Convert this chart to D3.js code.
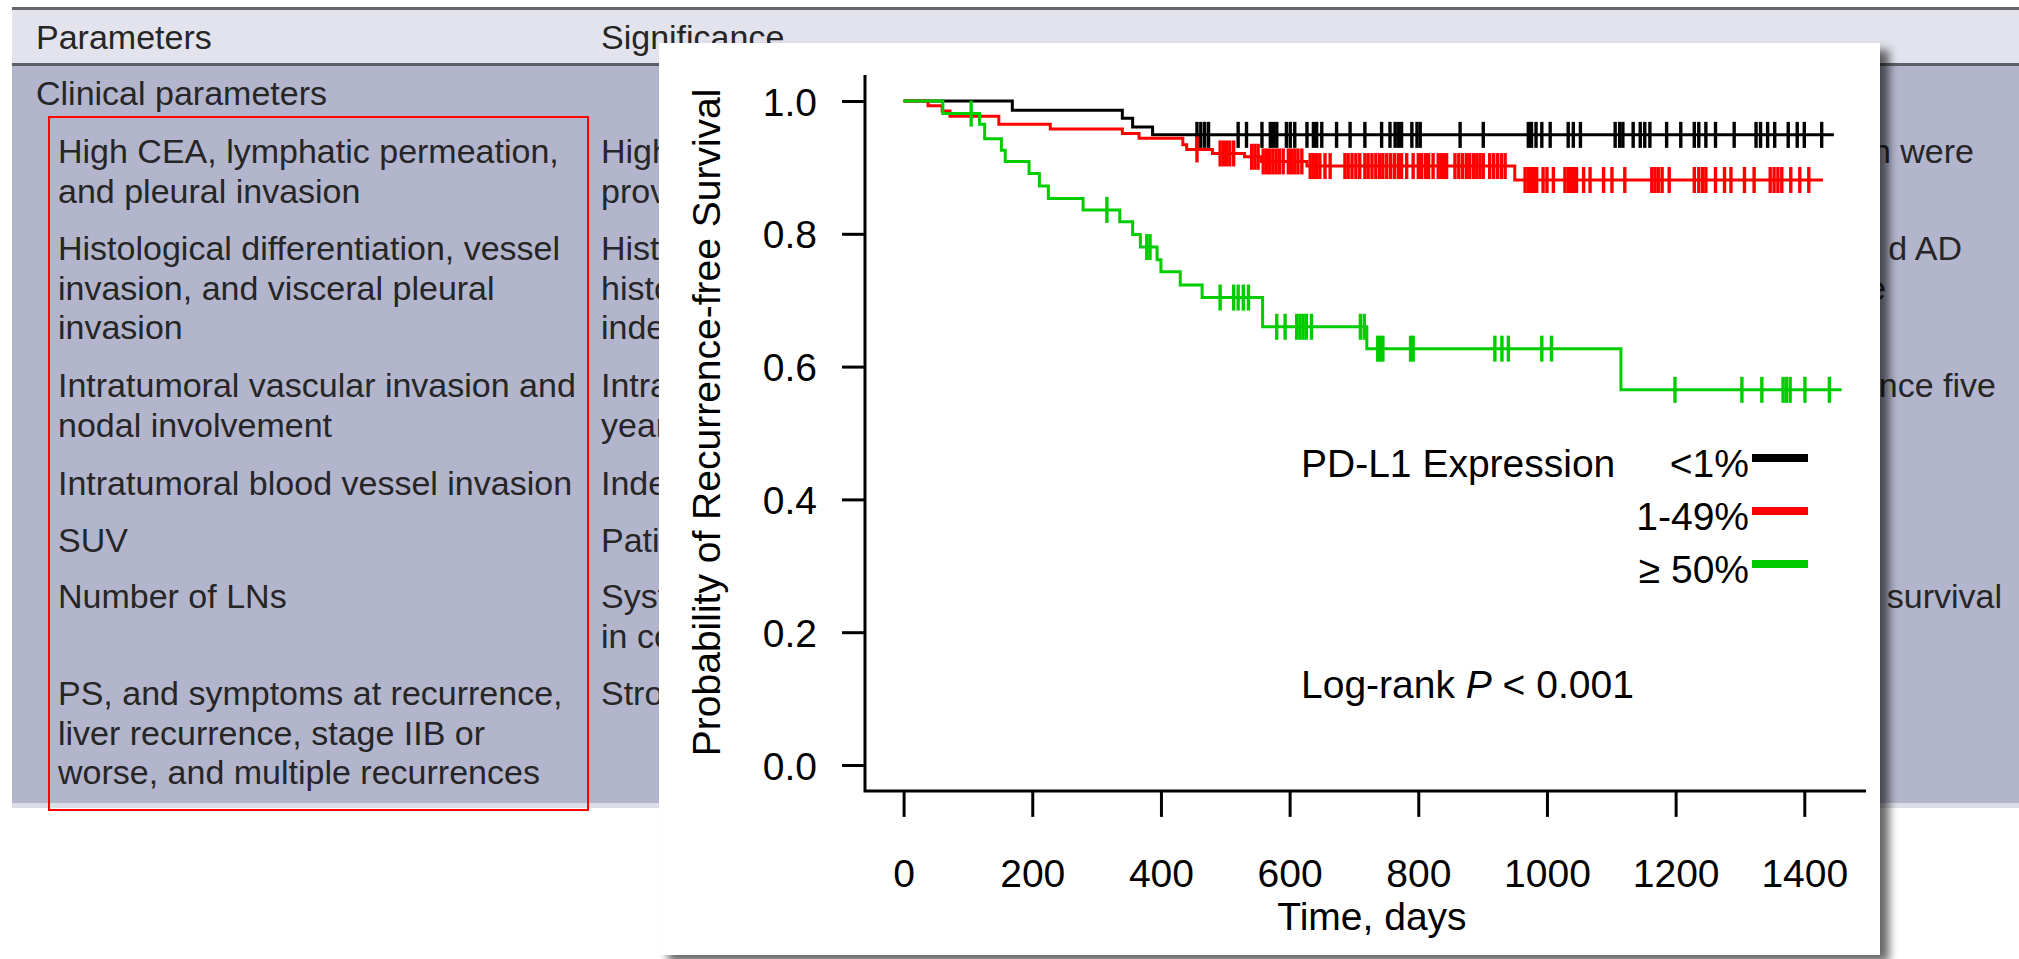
<!DOCTYPE html>
<meta charset="utf-8">
<title>PD-L1 recurrence-free survival</title>
<style>
    body { margin: 0; background: #fff; }
    svg { display: block; }
    text { font-family: "Liberation Sans", Arial, Helvetica, sans-serif; }
</style>

<body>
    <script src="https://d3js.org/d3.v7.min.js" charset="utf-8"></script>
    <script>
        // ---- data ----

        var groups = ["<1%", "1-49%", "\u2265 50%"],
            colors = ["#000000", "#ff0000", "#00cc00"];

        // Kaplan-Meier steps: [day, survival]
        var stepsLow = [[0, 1], [169, 0.986], [340, 0.974], [356, 0.961], [387, 0.949]];
        var stepsMid = [[0, 1], [38, 0.993], [60, 0.985], [72, 0.977], [148, 0.965], [228, 0.958],
            [340, 0.951], [366, 0.944], [434, 0.934], [440, 0.927], [480, 0.921], [530, 0.916],
            [556, 0.909], [627, 0.902], [950, 0.881]];
        var stepsHigh = [[0, 1], [61, 0.981], [118, 0.965], [126, 0.943], [152, 0.926], [158, 0.909],
            [195, 0.891], [211, 0.872], [225, 0.853], [279, 0.836], [336, 0.818], [356, 0.799],
            [368, 0.780], [394, 0.761], [400, 0.743], [430, 0.723], [464, 0.704], [558, 0.660],
            [720, 0.627], [1115, 0.565]];

        var lastDay = [1446, 1429, 1458];

        // censored observations, days
        var censorLow = [456, 462, 468, 474, 520, 533, 557, 570, 575, 580, 595, 601, 608, 627, 637,
            642, 650, 673, 694, 717, 743, 756, 764, 769, 774, 790, 798, 803, 865, 901, 971, 976,
            983, 992, 1005, 1033, 1041, 1052, 1106, 1113, 1118, 1134, 1145, 1152, 1160, 1186, 1208,
            1229, 1236, 1247, 1262, 1291, 1325, 1332, 1343, 1354, 1375, 1389, 1400, 1427];
        var censorMid = [456, 492, 497, 502, 507, 513, 541, 546, 551, 559, 564, 569, 574, 579, 584,
            590, 598, 603, 608, 613, 619, 632, 637, 642, 647, 655, 663, 686, 691, 697, 703, 709,
            717, 722, 728, 734, 740, 745, 751, 757, 763, 769, 774, 782, 792, 800, 805, 811, 816,
            823, 831, 836, 840, 844, 857, 863, 869, 875, 880, 886, 891, 896, 901, 911, 917, 923,
            929, 935, 966, 971, 976, 980, 984, 994, 1000, 1010, 1028, 1033, 1037, 1041, 1046,
            1057, 1067, 1088, 1101, 1121, 1163, 1168, 1173, 1179, 1190, 1229, 1236, 1242, 1247,
            1262, 1276, 1286, 1307, 1322, 1347, 1353, 1359, 1365, 1379, 1393, 1407];
        var censorHigh = [105, 316, 378, 383, 492, 513, 520, 528, 536, 580, 593, 611, 616, 621, 626,
            634, 710, 716, 737, 741, 745, 788, 792, 919, 930, 940, 992, 1007, 1199, 1303, 1334,
            1367, 1372, 1378, 1401, 1439];

        var xTicks = [0, 200, 400, 600, 800, 1000, 1200, 1400],
            yTicks = [0, 0.2, 0.4, 0.6, 0.8, 1.0];

        // background table text
        var tableHeads = ["Parameters", "Significance"],
            tableSection = "Clinical parameters";
        var paramRows = [
            ["High CEA, lymphatic permeation,", "and pleural invasion"],
            ["Histological differentiation, vessel", "invasion, and visceral pleural", "invasion"],
            ["Intratumoral vascular invasion and", "nodal involvement"],
            ["Intratumoral blood vessel invasion"],
            ["SUV"],
            ["Number of LNs"],
            ["PS, and symptoms at recurrence,", "liver recurrence, stage IIB or", "worse, and multiple recurrences"]
        ];
        var signifRows = [
            ["High", "prov"],
            ["Hist", "histo", "inde"],
            ["Intra", "year"],
            ["Inde"],
            ["Pati"],
            ["Syst", "in co"],
            ["Stro"]
        ];
        // tails of the second column seen right of the chart: [text, row, line]
        var signifTails = [["n were", 0, 0], ["d AD", 1, 0], ["e", 1, 1], ["nce five", 2, 0], ["survival", 5, 0]];

        // -----------------------

        var width = 2019,
            height = 959;

        var rowTops = [163, 260, 397, 495, 552, 608, 705],
            lineGap = 39.5,
            tailEnds = [1974, 1962, 1886, 1996, 2002];

        var svg = d3.select("body").append("svg")
            .attr("width", width)
            .attr("height", height);

        var shadow = svg.append("defs").append("filter")
            .attr("id", "shadow")
            .attr("x", "-5%").attr("y", "-5%")
            .attr("width", "115%").attr("height", "115%");
        shadow.append("feDropShadow")
            .attr("dx", 9).attr("dy", 7)
            .attr("stdDeviation", 5)
            .attr("flood-color", "#000")
            .attr("flood-opacity", 0.6);

        // ---- table behind the chart ----
        var table = svg.append("g");

        var bands = [[7, 3, "#66666c"], [10, 53, "#e3e3ed"], [63, 3, "#5e5e66"], [66, 737, "#b3b5cd"], [803, 5, "#dcdde6"]];
        bands.forEach(function (b) {
            table.append("rect")
                .attr("x", 12).attr("y", b[0])
                .attr("width", width).attr("height", b[1])
                .style("fill", b[2]);
        });

        function cell(x, yPos, s, anchor) {
            return table.append("text")
                .attr("x", x).attr("y", yPos)
                .attr("text-anchor", anchor || "start")
                .style("font-size", "34px")
                .style("fill", "#262626")
                .text(s);
        }

        cell(36, 49, tableHeads[0]);
        cell(601, 49, tableHeads[1]);
        cell(36, 105, tableSection);

        paramRows.forEach(function (lines, i) {
            lines.forEach(function (s, j) { cell(58, rowTops[i] + j * lineGap, s); });
        });
        signifRows.forEach(function (lines, i) {
            lines.forEach(function (s, j) { cell(601, rowTops[i] + j * lineGap, s); });
        });
        signifTails.forEach(function (d, i) {
            cell(tailEnds[i], rowTops[d[1]] + d[2] * lineGap, d[0], "end");
        });

        table.append("rect")
            .attr("x", 49).attr("y", 117)
            .attr("width", 539).attr("height", 693)
            .style("fill", "none")
            .style("stroke", "#ff0000")
            .style("stroke-width", 2);

        // ---- chart panel ----
        svg.append("rect")
            .attr("x", 659).attr("y", 43)
            .attr("width", 1221).attr("height", 912)
            .style("fill", "#fff")
            .attr("filter", "url(#shadow)");

        var chart = svg.append("g");

        var x = d3.scaleLinear().domain([0, 1400]).range([903.6, 1804.3]),
            y = d3.scaleLinear().domain([0, 1]).range([765, 101]);

        var axisStyle = function (g) {
            g.select(".domain").remove();
            g.selectAll(".tick line").style("stroke", "#000").style("stroke-width", 3);
            g.selectAll(".tick text").style("font-size", "39px").style("fill", "#000")
                .style("font-family", "'Liberation Sans', Arial, sans-serif");
        };

        chart.append("g")
            .attr("transform", "translate(" + x(-60) + ",0)")
            .call(d3.axisLeft(y).tickValues(yTicks).tickFormat(d3.format(".1f")).tickSize(23).tickPadding(25))
            .call(axisStyle)
            .selectAll(".tick text").attr("dy", "0.36em");

        chart.append("g")
            .attr("transform", "translate(0," + y(-0.039) + ")")
            .call(d3.axisBottom(x).tickValues(xTicks).tickFormat(d3.format("d")).tickSize(26).tickPadding(42))
            .call(axisStyle);

        // L-shaped frame
        chart.append("path")
            .attr("d", d3.line()([[x(-60), y(1.039)], [x(-60), y(-0.039)], [x(1496), y(-0.039)]]))
            .style("fill", "none")
            .style("stroke", "#000")
            .style("stroke-width", 3);

        chart.append("text")
            .attr("transform", "translate(720," + y(0.516) + ") rotate(-90)")
            .attr("text-anchor", "middle")
            .style("font-size", "39px")
            .text("Probability of Recurrence-free Survival");

        chart.append("text")
            .attr("x", x(728))
            .attr("y", 930)
            .attr("text-anchor", "middle")
            .style("font-size", "39px")
            .text("Time, days");

        // curves
        var allSteps = [stepsLow, stepsMid, stepsHigh],
            allCensor = [censorLow, censorMid, censorHigh];

        var line = d3.line()
            .x(function (d) { return x(d[0]); })
            .y(function (d) { return y(d[1]); })
            .curve(d3.curveStepAfter);

        function survAt(steps, t) {
            var s = steps[0][1];
            steps.forEach(function (p) { if (p[0] <= t) s = p[1]; });
            return s;
        }

        allSteps.forEach(function (steps, k) {
            var pts = steps.concat([[lastDay[k], steps[steps.length - 1][1]]]);
            chart.append("path")
                .attr("d", line(pts))
                .style("fill", "none")
                .style("stroke", colors[k])
                .style("stroke-width", 3);

            chart.append("g").selectAll("line")
                .data(allCensor[k])
                .enter().append("line")
                .attr("x1", function (t) { return x(t); })
                .attr("x2", function (t) { return x(t); })
                .attr("y1", function (t) { return y(survAt(steps, t)) - 13; })
                .attr("y2", function (t) { return y(survAt(steps, t)) + 13; })
                .style("stroke", colors[k])
                .style("stroke-width", 3.4);
        });

        // legend
        var legend = chart.append("g");
        legend.append("text")
            .attr("x", 1301).attr("y", 477)
            .style("font-size", "39px")
            .text("PD-L1 Expression");

        groups.forEach(function (g, k) {
            legend.append("text")
                .attr("x", 1749).attr("y", 477 + k * 53)
                .attr("text-anchor", "end")
                .style("font-size", "39px")
                .text(g);
            legend.append("line")
                .attr("x1", 1752).attr("x2", 1808)
                .attr("y1", 458 + k * 53).attr("y2", 458 + k * 53)
                .style("stroke", colors[k])
                .style("stroke-width", 8);
        });

        var lr = chart.append("text")
            .attr("x", 1301).attr("y", 698)
            .style("font-size", "39px");
        lr.append("tspan").text("Log-rank ");
        lr.append("tspan").style("font-style", "italic").text("P");
        lr.append("tspan").text(" < 0.001");
    </script>
